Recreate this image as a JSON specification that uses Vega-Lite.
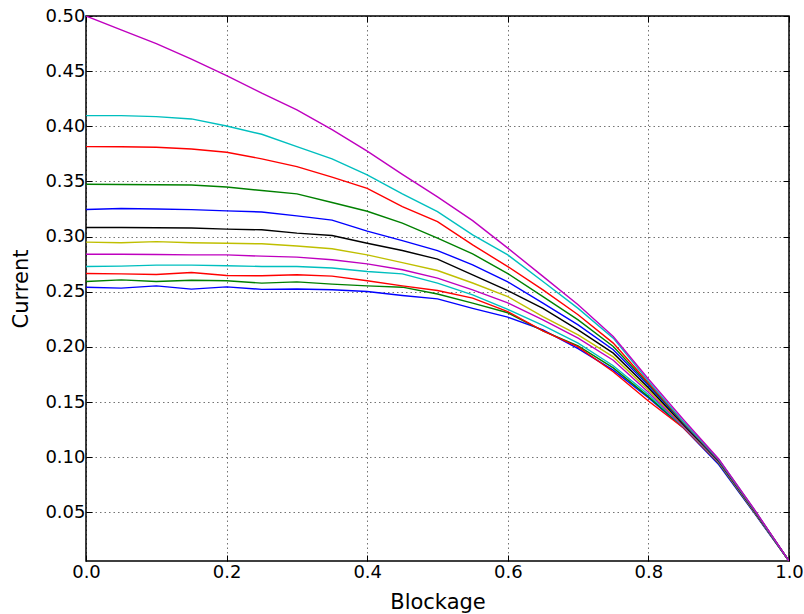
{
  "$schema": "https://vega.github.io/schema/vega-lite/v6.json",
  "width": 703,
  "height": 545,
  "autosize": "none",
  "padding": {"left": 86, "top": 16, "right": 15, "bottom": 53},
  "background": "white",
  "config": {
    "view": {"stroke": "#000", "strokeWidth": 1.5},
    "font": "DejaVu Sans",
    "axis": {
      "labelFont": "DejaVu Sans",
      "labelFontSize": 18,
      "labelColor": "#000",
      "titleFont": "DejaVu Sans",
      "titleFontSize": 21,
      "titleFontWeight": "normal",
      "titleColor": "#000",
      "domain": false,
      "tickColor": "#000",
      "tickWidth": 1,
      "tickSize": -6,
      "labelFlush": false,
      "labelOverlap": false,
      "gridColor": "#000",
      "gridOpacity": 0.55,
      "gridDash": [1.5, 3],
      "gridWidth": 1
    }
  },
  "data": {"values": [
    {"s":"01","x":0,"y":0.2542},{"s":"01","x":0.05,"y":0.2533},{"s":"01","x":0.1,"y":0.2554},{"s":"01","x":0.15,"y":0.2524},{"s":"01","x":0.2,"y":0.2545},{"s":"01","x":0.25,"y":0.2522},{"s":"01","x":0.3,"y":0.2526},{"s":"01","x":0.35,"y":0.2518},{"s":"01","x":0.4,"y":0.2503},{"s":"01","x":0.45,"y":0.2466},{"s":"01","x":0.5,"y":0.2436},{"s":"01","x":0.55,"y":0.235},{"s":"01","x":0.6,"y":0.227},{"s":"01","x":0.65,"y":0.2155},{"s":"01","x":0.7,"y":0.1985},{"s":"01","x":0.75,"y":0.179},{"s":"01","x":0.8,"y":0.154},{"s":"01","x":0.85,"y":0.1265},{"s":"01","x":0.9,"y":0.0935},{"s":"01","x":0.95,"y":0.05},{"s":"01","x":1,"y":0.006},
    {"s":"02","x":0,"y":0.2593},{"s":"02","x":0.05,"y":0.2608},{"s":"02","x":0.1,"y":0.2593},{"s":"02","x":0.15,"y":0.2605},{"s":"02","x":0.2,"y":0.26},{"s":"02","x":0.25,"y":0.2579},{"s":"02","x":0.3,"y":0.259},{"s":"02","x":0.35,"y":0.257},{"s":"02","x":0.4,"y":0.2554},{"s":"02","x":0.45,"y":0.2542},{"s":"02","x":0.5,"y":0.248},{"s":"02","x":0.55,"y":0.2397},{"s":"02","x":0.6,"y":0.231},{"s":"02","x":0.65,"y":0.2145},{"s":"02","x":0.7,"y":0.201},{"s":"02","x":0.75,"y":0.181},{"s":"02","x":0.8,"y":0.155},{"s":"02","x":0.85,"y":0.127},{"s":"02","x":0.9,"y":0.0945},{"s":"02","x":0.95,"y":0.0505},{"s":"02","x":1,"y":0.006},
    {"s":"03","x":0,"y":0.2666},{"s":"03","x":0.05,"y":0.2663},{"s":"03","x":0.1,"y":0.2657},{"s":"03","x":0.15,"y":0.2675},{"s":"03","x":0.2,"y":0.2648},{"s":"03","x":0.25,"y":0.2645},{"s":"03","x":0.3,"y":0.2654},{"s":"03","x":0.35,"y":0.2642},{"s":"03","x":0.4,"y":0.26},{"s":"03","x":0.45,"y":0.2554},{"s":"03","x":0.5,"y":0.2512},{"s":"03","x":0.55,"y":0.2443},{"s":"03","x":0.6,"y":0.232},{"s":"03","x":0.65,"y":0.2145},{"s":"03","x":0.7,"y":0.2},{"s":"03","x":0.75,"y":0.1775},{"s":"03","x":0.8,"y":0.151},{"s":"03","x":0.85,"y":0.1265},{"s":"03","x":0.9,"y":0.095},{"s":"03","x":0.95,"y":0.051},{"s":"03","x":1,"y":0.006},
    {"s":"04","x":0,"y":0.2729},{"s":"04","x":0.05,"y":0.2733},{"s":"04","x":0.1,"y":0.2742},{"s":"04","x":0.15,"y":0.2742},{"s":"04","x":0.2,"y":0.2736},{"s":"04","x":0.25,"y":0.273},{"s":"04","x":0.3,"y":0.273},{"s":"04","x":0.35,"y":0.2716},{"s":"04","x":0.4,"y":0.2684},{"s":"04","x":0.45,"y":0.2663},{"s":"04","x":0.5,"y":0.2579},{"s":"04","x":0.55,"y":0.2473},{"s":"04","x":0.6,"y":0.234},{"s":"04","x":0.65,"y":0.2195},{"s":"04","x":0.7,"y":0.2035},{"s":"04","x":0.75,"y":0.183},{"s":"04","x":0.8,"y":0.157},{"s":"04","x":0.85,"y":0.1275},{"s":"04","x":0.9,"y":0.0955},{"s":"04","x":0.95,"y":0.0512},{"s":"04","x":1,"y":0.006},
    {"s":"05","x":0,"y":0.2841},{"s":"05","x":0.05,"y":0.284},{"s":"05","x":0.1,"y":0.2838},{"s":"05","x":0.15,"y":0.2835},{"s":"05","x":0.2,"y":0.2835},{"s":"05","x":0.25,"y":0.2823},{"s":"05","x":0.3,"y":0.2814},{"s":"05","x":0.35,"y":0.279},{"s":"05","x":0.4,"y":0.2753},{"s":"05","x":0.45,"y":0.27},{"s":"05","x":0.5,"y":0.2624},{"s":"05","x":0.55,"y":0.2518},{"s":"05","x":0.6,"y":0.24},{"s":"05","x":0.65,"y":0.2246},{"s":"05","x":0.7,"y":0.208},{"s":"05","x":0.75,"y":0.188},{"s":"05","x":0.8,"y":0.159},{"s":"05","x":0.85,"y":0.128},{"s":"05","x":0.9,"y":0.096},{"s":"05","x":0.95,"y":0.0515},{"s":"05","x":1,"y":0.006},
    {"s":"06","x":0,"y":0.295},{"s":"06","x":0.05,"y":0.2945},{"s":"06","x":0.1,"y":0.2955},{"s":"06","x":0.15,"y":0.2945},{"s":"06","x":0.2,"y":0.294},{"s":"06","x":0.25,"y":0.2935},{"s":"06","x":0.3,"y":0.2915},{"s":"06","x":0.35,"y":0.289},{"s":"06","x":0.4,"y":0.2835},{"s":"06","x":0.45,"y":0.2765},{"s":"06","x":0.5,"y":0.2693},{"s":"06","x":0.55,"y":0.258},{"s":"06","x":0.6,"y":0.2457},{"s":"06","x":0.65,"y":0.2276},{"s":"06","x":0.7,"y":0.211},{"s":"06","x":0.75,"y":0.191},{"s":"06","x":0.8,"y":0.161},{"s":"06","x":0.85,"y":0.129},{"s":"06","x":0.9,"y":0.0963},{"s":"06","x":0.95,"y":0.0518},{"s":"06","x":1,"y":0.006},
    {"s":"07","x":0,"y":0.3083},{"s":"07","x":0.05,"y":0.3083},{"s":"07","x":0.1,"y":0.308},{"s":"07","x":0.15,"y":0.3078},{"s":"07","x":0.2,"y":0.3068},{"s":"07","x":0.25,"y":0.3062},{"s":"07","x":0.3,"y":0.3032},{"s":"07","x":0.35,"y":0.301},{"s":"07","x":0.4,"y":0.294},{"s":"07","x":0.45,"y":0.2874},{"s":"07","x":0.5,"y":0.2796},{"s":"07","x":0.55,"y":0.2654},{"s":"07","x":0.6,"y":0.251},{"s":"07","x":0.65,"y":0.235},{"s":"07","x":0.7,"y":0.2155},{"s":"07","x":0.75,"y":0.1944},{"s":"07","x":0.8,"y":0.163},{"s":"07","x":0.85,"y":0.1295},{"s":"07","x":0.9,"y":0.0966},{"s":"07","x":0.95,"y":0.052},{"s":"07","x":1,"y":0.006},
    {"s":"08","x":0,"y":0.3246},{"s":"08","x":0.05,"y":0.3255},{"s":"08","x":0.1,"y":0.325},{"s":"08","x":0.15,"y":0.3245},{"s":"08","x":0.2,"y":0.3234},{"s":"08","x":0.25,"y":0.3224},{"s":"08","x":0.3,"y":0.3188},{"s":"08","x":0.35,"y":0.315},{"s":"08","x":0.4,"y":0.305},{"s":"08","x":0.45,"y":0.2964},{"s":"08","x":0.5,"y":0.2874},{"s":"08","x":0.55,"y":0.2744},{"s":"08","x":0.6,"y":0.259},{"s":"08","x":0.65,"y":0.2398},{"s":"08","x":0.7,"y":0.22},{"s":"08","x":0.75,"y":0.1975},{"s":"08","x":0.8,"y":0.165},{"s":"08","x":0.85,"y":0.1305},{"s":"08","x":0.9,"y":0.097},{"s":"08","x":0.95,"y":0.0523},{"s":"08","x":1,"y":0.006},
    {"s":"09","x":0,"y":0.3475},{"s":"09","x":0.05,"y":0.3473},{"s":"09","x":0.1,"y":0.347},{"s":"09","x":0.15,"y":0.3468},{"s":"09","x":0.2,"y":0.345},{"s":"09","x":0.25,"y":0.3418},{"s":"09","x":0.3,"y":0.3388},{"s":"09","x":0.35,"y":0.331},{"s":"09","x":0.4,"y":0.323},{"s":"09","x":0.45,"y":0.3122},{"s":"09","x":0.5,"y":0.2986},{"s":"09","x":0.55,"y":0.2844},{"s":"09","x":0.6,"y":0.2665},{"s":"09","x":0.65,"y":0.2457},{"s":"09","x":0.7,"y":0.2246},{"s":"09","x":0.75,"y":0.2004},{"s":"09","x":0.8,"y":0.1665},{"s":"09","x":0.85,"y":0.131},{"s":"09","x":0.9,"y":0.0975},{"s":"09","x":0.95,"y":0.0526},{"s":"09","x":1,"y":0.006},
    {"s":"10","x":0,"y":0.3816},{"s":"10","x":0.05,"y":0.3815},{"s":"10","x":0.1,"y":0.381},{"s":"10","x":0.15,"y":0.3795},{"s":"10","x":0.2,"y":0.3765},{"s":"10","x":0.25,"y":0.3705},{"s":"10","x":0.3,"y":0.3635},{"s":"10","x":0.35,"y":0.3539},{"s":"10","x":0.4,"y":0.3437},{"s":"10","x":0.45,"y":0.3272},{"s":"10","x":0.5,"y":0.3136},{"s":"10","x":0.55,"y":0.2925},{"s":"10","x":0.6,"y":0.2729},{"s":"10","x":0.65,"y":0.2518},{"s":"10","x":0.7,"y":0.2292},{"s":"10","x":0.75,"y":0.2035},{"s":"10","x":0.8,"y":0.1675},{"s":"10","x":0.85,"y":0.1315},{"s":"10","x":0.9,"y":0.0978},{"s":"10","x":0.95,"y":0.0528},{"s":"10","x":1,"y":0.006},
    {"s":"11","x":0,"y":0.4097},{"s":"11","x":0.05,"y":0.4097},{"s":"11","x":0.1,"y":0.4088},{"s":"11","x":0.15,"y":0.4067},{"s":"11","x":0.2,"y":0.4003},{"s":"11","x":0.25,"y":0.3928},{"s":"11","x":0.3,"y":0.3816},{"s":"11","x":0.35,"y":0.3705},{"s":"11","x":0.4,"y":0.356},{"s":"11","x":0.45,"y":0.3388},{"s":"11","x":0.5,"y":0.3227},{"s":"11","x":0.55,"y":0.3016},{"s":"11","x":0.6,"y":0.2835},{"s":"11","x":0.65,"y":0.2593},{"s":"11","x":0.7,"y":0.235},{"s":"11","x":0.75,"y":0.208},{"s":"11","x":0.8,"y":0.169},{"s":"11","x":0.85,"y":0.132},{"s":"11","x":0.9,"y":0.098},{"s":"11","x":0.95,"y":0.053},{"s":"11","x":1,"y":0.006},
    {"s":"12","x":0,"y":0.5},{"s":"12","x":0.05,"y":0.4875},{"s":"12","x":0.1,"y":0.475},{"s":"12","x":0.15,"y":0.461},{"s":"12","x":0.2,"y":0.446},{"s":"12","x":0.25,"y":0.43},{"s":"12","x":0.3,"y":0.415},{"s":"12","x":0.35,"y":0.397},{"s":"12","x":0.4,"y":0.3775},{"s":"12","x":0.45,"y":0.3565},{"s":"12","x":0.5,"y":0.336},{"s":"12","x":0.55,"y":0.3145},{"s":"12","x":0.6,"y":0.2896},{"s":"12","x":0.65,"y":0.264},{"s":"12","x":0.7,"y":0.2382},{"s":"12","x":0.75,"y":0.2094},{"s":"12","x":0.8,"y":0.171},{"s":"12","x":0.85,"y":0.134},{"s":"12","x":0.9,"y":0.0985},{"s":"12","x":0.95,"y":0.0535},{"s":"12","x":1,"y":0.006}
  ]},
  "layer": [
    {
      "mark": {"type": "line", "strokeWidth": 1.4, "clip": true},
      "encoding": {
        "x": {"field": "x", "type": "quantitative",
              "scale": {"domain": [0, 1], "nice": false, "zero": false},
              "axis": {"values": [0, 0.2, 0.4, 0.6, 0.8, 1], "format": ".1f", "grid": true,
                       "labelPadding": 8, "title": "Blockage", "titleY": 47, "titleBaseline": "alphabetic"}},
        "y": {"field": "y", "type": "quantitative",
              "scale": {"domain": [0.006, 0.5], "nice": false, "zero": false},
              "axis": {"values": [0.05, 0.1, 0.15, 0.2, 0.25, 0.3, 0.35, 0.4, 0.45, 0.5], "format": ".2f", "grid": true,
                       "labelPadding": 7, "title": "Current", "titleX": -59, "titleY": 272.5, "titleBaseline": "alphabetic"}},
        "color": {"field": "s", "type": "nominal", "legend": null,
                  "scale": {"domain": ["01","02","03","04","05","06","07","08","09","10","11","12"],
                            "range": ["#0000ff","#008000","#ff0000","#00bfbf","#bf00bf","#bfbf00","#000000","#0000ff","#008000","#ff0000","#00bfbf","#bf00bf"]}}
      }
    },
    {
      "mark": {"type": "line", "strokeOpacity": 0},
      "encoding": {
        "x": {"field": "x", "type": "quantitative",
              "axis": {"orient": "top", "values": [0, 0.2, 0.4, 0.6, 0.8, 1], "labels": false, "grid": false, "title": null}},
        "y": {"field": "y", "type": "quantitative",
              "axis": {"orient": "right", "values": [0.05, 0.1, 0.15, 0.2, 0.25, 0.3, 0.35, 0.4, 0.45, 0.5], "labels": false, "grid": false, "title": null}},
        "detail": {"field": "s"}
      }
    }
  ],
  "resolve": {"axis": {"x": "independent", "y": "independent"}}
}
